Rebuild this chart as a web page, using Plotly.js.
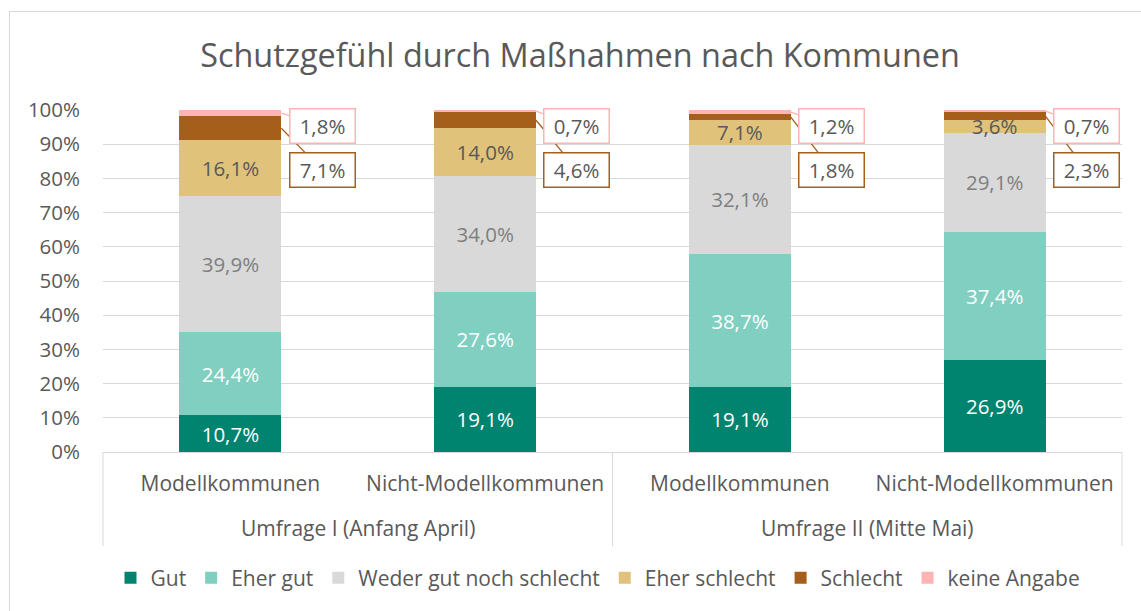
<!DOCTYPE html>
<html>
<head>
<meta charset="utf-8">
<script src="https://cdn.plot.ly/plotly-3.0.1.min.js"></script>
<style>
  html, body { margin: 0; padding: 0; background: #fff; overflow: hidden; }
  #wrap { position: relative; width: 1141px; height: 611px; }
  #chart { width: 1141px; height: 611px; }
  #frame { position: absolute; left: 9px; top: 11px; width: 1160px; height: 640px;
           border: 1px solid #d9d9d9; box-sizing: border-box; pointer-events: none; }
</style>
</head>
<body>
<div id="wrap">
  <div id="chart"></div>
  <div id="frame"></div>
</div>
<script>
// ---- data ----
const groups = ['Umfrage I (Anfang April)', 'Umfrage I (Anfang April)', 'Umfrage II (Mitte Mai)', 'Umfrage II (Mitte Mai)'];
const subgroups = ['Modellkommunen', 'Nicht-Modellkommunen', 'Modellkommunen', 'Nicht-Modellkommunen'];
const seriesNames = ['Gut', 'Eher gut', 'Weder gut noch schlecht', 'Eher schlecht', 'Schlecht', 'keine Angabe'];
const gut          = [10.7, 19.1, 19.1, 26.9];
const eherGut      = [24.4, 27.6, 38.7, 37.4];
const weder        = [39.9, 34.0, 32.1, 29.1];
const eherSchlecht = [16.1, 14.0, 7.1, 3.6];
const schlecht     = [7.1, 4.6, 1.8, 2.3];
const keineAngabe  = [1.8, 0.7, 1.2, 0.7];
const yTicks = [0, 10, 20, 30, 40, 50, 60, 70, 80, 90, 100];

// ---- styles ----
const colors = ['#00846F', '#80CFC1', '#D9D9D9', '#E0C27B', '#A65E1B', '#FFB4B4'];
const textColors = ['#ffffff', '#ffffff', '#7f7f7f', '#595959', '#595959', '#595959'];
const FONT = '"Open Sans", sans-serif';
const GRAY = '#595959';
const GRID = '#d9d9d9';

const n = subgroups.length;
const xIdx = subgroups.map((_, i) => i);
const series = [gut, eherGut, weder, eherSchlecht, schlecht, keineAngabe];

const traces = series.map((vals, k) => ({
  type: 'bar',
  name: seriesNames[k],
  x: xIdx,
  y: vals,
  marker: { color: colors[k] },
  texttemplate: k < 4 ? '%{y:.1f}%' : '',
  textposition: k < 4 ? 'inside' : 'none',
  insidetextanchor: 'middle',
  constraintext: 'none',
  textfont: { family: FONT, size: 20.5, color: textColors[k] },
  hoverinfo: 'skip'
}));

const fmt = v => v.toFixed(1).replace('.', ',') + '%';
const annotations = [];
const halfBar = 0.2;
const boxOffset = 0.16;
for (let i = 0; i < n; i++) {
  const below = gut[i] + eherGut[i] + weder[i] + eherSchlecht[i];
  annotations.push({
    xref: 'x', yref: 'y', axref: 'x', ayref: 'y',
    x: i + halfBar, y: below + schlecht[i] / 2,
    ax: i + halfBar + boxOffset, ay: 82.5,
    text: fmt(schlecht[i]),
    showarrow: true, arrowhead: 0, arrowwidth: 1.3, arrowcolor: colors[4], standoff: 0,
    bordercolor: colors[4], borderwidth: 1.5, borderpad: 2, bgcolor: '#ffffff',
    width: 60, height: 29,
    font: { family: FONT, size: 20.5, color: GRAY }
  });
  annotations.push({
    xref: 'x', yref: 'y', axref: 'x', ayref: 'y',
    x: i + halfBar, y: below + schlecht[i] + keineAngabe[i] / 2,
    ax: i + halfBar + boxOffset, ay: 95.3,
    text: fmt(keineAngabe[i]),
    showarrow: true, arrowhead: 0, arrowwidth: 1.3, arrowcolor: colors[5], standoff: 0,
    bordercolor: colors[5], borderwidth: 1.5, borderpad: 2, bgcolor: '#ffffff',
    width: 60, height: 29,
    font: { family: FONT, size: 20.5, color: GRAY }
  });
}

// group labels and dividers derived from the groups array
const shapes = [];
const toPaper = v => (v + 0.5) / n;
const divider = xv => ({
  type: 'line', xref: 'paper', yref: 'paper',
  x0: toPaper(xv), x1: toPaper(xv), y0: 0, y1: -0.275,
  line: { color: GRID, width: 1 }
});
let start = 0;
for (let i = 1; i <= n; i++) {
  if (i === n || groups[i] !== groups[start]) {
    annotations.push({
      xref: 'x', yref: 'paper', x: (start + i - 1) / 2, y: -0.222,
      xanchor: 'center', yanchor: 'middle', showarrow: false,
      text: groups[start], font: { family: FONT, size: 21, color: GRAY }
    });
    shapes.push(divider(start - 0.5));
    start = i;
  }
}
shapes.push(divider(n - 0.5));

const layout = {
  width: 1141, height: 611,
  margin: { l: 103, r: 19, t: 110, b: 159 },
  paper_bgcolor: 'rgba(0,0,0,0)',
  plot_bgcolor: '#ffffff',
  barmode: 'stack',
  bargap: 0.6,
  separators: ',.',
  font: { family: FONT, color: GRAY, size: 21 },
  title: {
    text: 'Schutzgefühl durch Maßnahmen nach Kommunen',
    font: { family: FONT, size: 32.4, color: GRAY },
    x: 580 / 1141, xanchor: 'center', xref: 'container',
    y: 1 - 56 / 611, yanchor: 'middle', yref: 'container'
  },
  xaxis: {
    range: [-0.5, n - 0.5],
    tickvals: xIdx,
    ticktext: subgroups,
    showline: true, linecolor: GRID, linewidth: 1,
    tickfont: { family: FONT, size: 21, color: GRAY },
    ticks: '', ticklabelstandoff: 13,
    showgrid: false, zeroline: false
  },
  yaxis: {
    range: [0, 100],
    tickvals: yTicks,
    ticktext: yTicks.map(v => v + '%'),
    showgrid: true, gridcolor: GRID, gridwidth: 1,
    zeroline: false, showline: false,
    tickfont: { family: FONT, size: 20.5, color: GRAY },
    ticklabelstandoff: 22
  },
  legend: {
    orientation: 'h',
    x: 598 / 1141, xanchor: 'center', xref: 'container',
    y: 1 - 578 / 611, yanchor: 'middle', yref: 'container',
    font: { family: FONT, size: 21, color: GRAY },
    itemwidth: 30,
    traceorder: 'normal'
  },
  annotations: annotations,
  shapes: shapes,
  showlegend: true
};

Plotly.newPlot('chart', traces, layout, { displayModeBar: false, staticPlot: true });
</script>
</body>
</html>
